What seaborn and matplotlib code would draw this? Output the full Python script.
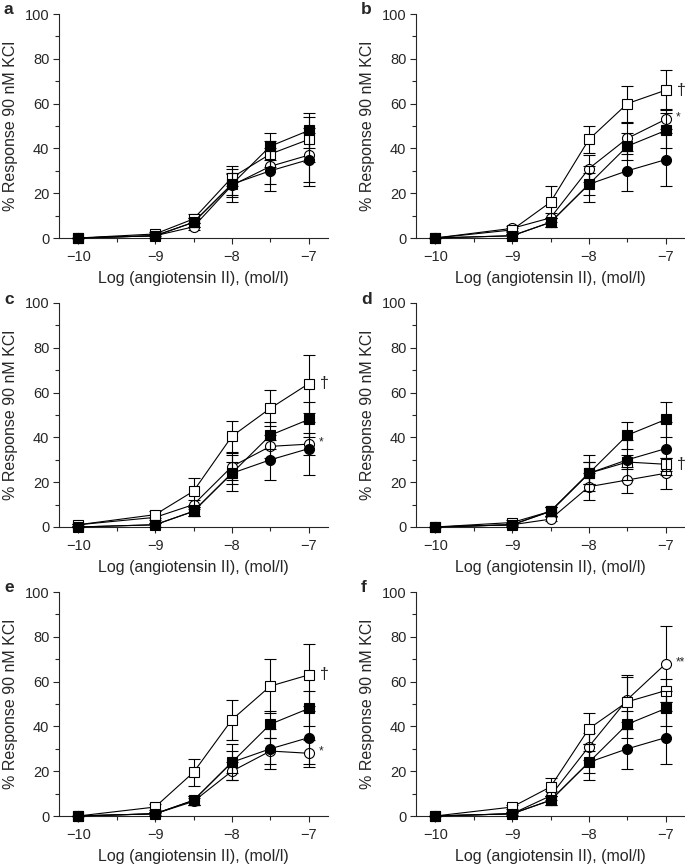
import numpy as np
import pandas as pd
import matplotlib
matplotlib.use("Agg")
import matplotlib.pyplot as plt
from matplotlib.ticker import MultipleLocator, FixedLocator
import seaborn as sns

# concentrations (log mol/l)
log_ang = [-10, -9, -8.5, -8, -7.5, -7]

# control curves, same in every panel
ctrl_circle = [0, 1, 7, 24, 30, 35]
ctrl_circle_err = [0, 1, 2, 8, 9, 12]
ctrl_square = [0, 1, 7, 24, 41, 48]
ctrl_square_err = [0, 1, 2, 5, 6, 8]

# treated curves per panel: open square / open circle
a_sq = [0, 1.8, 8.5, 27, 37.5, 44]
a_sq_err = [0, 1, 2, 4, 6, 10]
a_ci = [0, 1, 5, 23.5, 32, 37]
a_ci_err = [0, 1, 1.5, 5, 8, 12]

b_sq = [0, 3.6, 16, 44, 60, 66]
b_sq_err = [0, 1, 7, 6, 8, 9]
b_ci = [0, 4.3, 9, 31, 44.5, 53]
b_ci_err = [0, 1, 2, 6, 7, 4.5]

c_sq = [1, 5.5, 16, 40.5, 53, 64]
c_sq_err = [0.5, 1.5, 6, 7, 8, 13]
c_ci = [1, 4.3, 10, 27, 36, 37]
c_ci_err = [0.5, 1, 2, 6, 5, 5]

d_sq = [0, 2, 7, 24, 29, 28]
d_sq_err = [0, 1, 2, 5, 3, 3]
d_ci = [0, 1, 3.5, 18, 21, 24]
d_ci_err = [0, 0.5, 1, 6, 6, 7]

e_sq = [0, 4, 19.5, 43, 58, 63]
e_sq_err = [0, 1.5, 6, 9, 12, 14]
e_ci = [0, 1, 6.5, 20, 29, 28]
e_ci_err = [0, 0.5, 1.5, 4, 6, 6]

f_sq = [0, 4, 13, 39, 51, 56]
f_sq_err = [0, 1, 4, 7, 12, 5]
f_ci = [0, 1, 9, 31, 52, 68]
f_ci_err = [0, 0.5, 2, 6, 10, 17]

panel_letters = ["a", "b", "c", "d", "e", "f"]
open_sq = [a_sq, b_sq, c_sq, d_sq, e_sq, f_sq]
open_sq_err = [a_sq_err, b_sq_err, c_sq_err, d_sq_err, e_sq_err, f_sq_err]
open_ci = [a_ci, b_ci, c_ci, d_ci, e_ci, f_ci]
open_ci_err = [a_ci_err, b_ci_err, c_ci_err, d_ci_err, e_ci_err, f_ci_err]
# significance marks at -7: (series, text)
marks = [[], [("sq", "\u2020"), ("ci", "*")], [("sq", "\u2020"), ("ci", "*")],
         [("sq", "\u2020")], [("sq", "\u2020"), ("ci", "*")], [("ci", "**")]]

sns.set_style("ticks")
plt.rcParams['font.family'] = ['Liberation Sans', 'DejaVu Sans']
plt.rcParams['axes.linewidth'] = 0.8

fig = plt.figure(figsize=(6.85, 8.67), dpi=100)

lefts = [59, 416]
tops = [14, 303, 592]
W, H = 269, 224


def draw_series(ax, y, err, marker, filled, z):
    ax.errorbar(log_ang, y, yerr=err, fmt='none', ecolor='black',
                elinewidth=0.8, capsize=4, capthick=0.8, zorder=z, clip_on=False)
    sns.lineplot(x=log_ang, y=y, ax=ax, color='black', linewidth=0.8,
                 marker=marker, markersize=6.6 if marker == 's' else 7.2,
                 markerfacecolor='black' if filled else 'white',
                 markeredgecolor='black', markeredgewidth=0.8,
                 clip_on=False, zorder=z + 0.5)


for i, letter in enumerate(panel_letters):
    col, row = i % 2, i // 2
    l = lefts[col] / 685
    b = (867 - tops[row] - H) / 867
    ax = fig.add_axes([l, b, W / 685, H / 867])

    draw_series(ax, open_ci[i], open_ci_err[i], 'o', False, 2)
    draw_series(ax, open_sq[i], open_sq_err[i], 's', False, 3)
    draw_series(ax, ctrl_circle, ctrl_circle_err, 'o', True, 4)
    draw_series(ax, ctrl_square, ctrl_square_err, 's', True, 5)

    ax.set_xlim(-10.25, -6.75)
    ax.set_ylim(0, 100)
    ax.set_xticks([-10, -9, -8, -7])
    ax.xaxis.set_minor_locator(FixedLocator([-9.5, -8.5, -7.5]))
    ax.set_yticks([0, 20, 40, 60, 80, 100])
    ax.yaxis.set_minor_locator(MultipleLocator(10))
    ax.tick_params(which='major', length=4, width=0.8, labelsize=10.5, pad=3)
    ax.tick_params(axis='x', which='major', pad=4.5)
    ax.tick_params(which='minor', length=3, width=0.8)
    sns.despine(ax=ax)

    ax.set_xlabel("Log (angiotensin II), (mol/l)", fontsize=11.5, labelpad=5)
    ax.set_ylabel("% Response 90 nM KCl", fontsize=11.5, labelpad=5)

    for which, txt in marks[i]:
        yv = (open_sq[i] if which == "sq" else open_ci[i])[-1]
        if txt == "\u2020":
            ax.annotate(txt, (log_ang[-1], yv), xytext=(8, 0), textcoords='offset points',
                        ha='left', va='center', fontsize=11.5)
        else:
            ax.annotate(txt, (log_ang[-1], yv), xytext=(7, 1), textcoords='offset points',
                        ha='left', va='center', fontsize=8.5)

    fig.text((lefts[col] - 55) / 685, 1 - (tops[row] - 4) / 867, letter,
             fontsize=12.5, fontweight='bold', ha='left', va='center')

fig.savefig("out.png", dpi=100)
